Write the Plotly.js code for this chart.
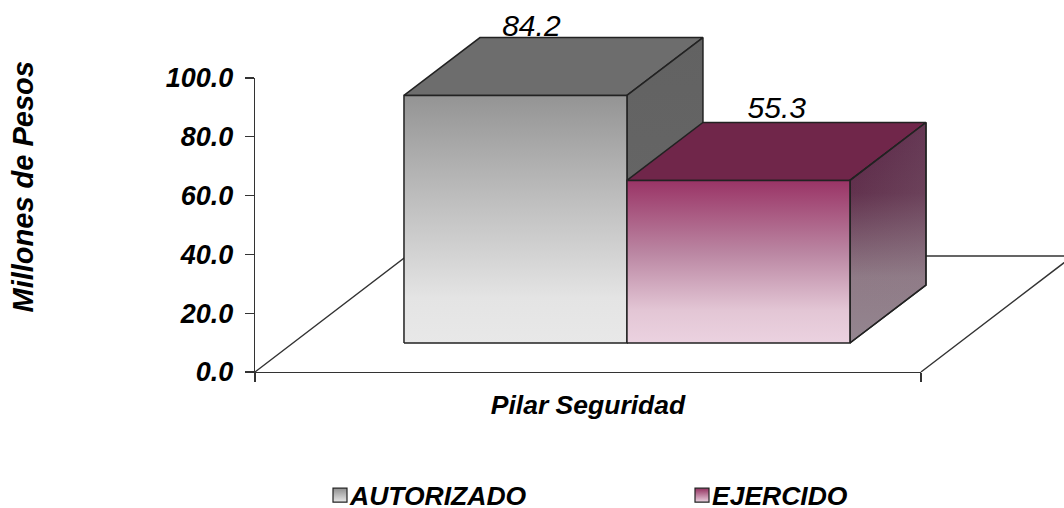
<!DOCTYPE html>
<html><head><meta charset="utf-8">
<script src="https://cdn.plot.ly/plotly-3.0.1.min.js"></script>
<style>html,body{margin:0;padding:0;background:#fff}</style></head>
<body><div id="chart" style="width:1064px;height:508px"></div>
<script>
const category = 'Pilar Seguridad';
const yTitle = 'Millones de Pesos';
const seriesNames = ['AUTORIZADO', 'EJERCIDO'];
const autorizado = [84.2];
const ejercido = [55.3];
const tickValues = [0, 20, 40, 60, 80, 100];

// 3D projection constants, in axis units
const FONT = '"Liberation Sans", Arial, sans-serif';
const W = 1064, H = 508, AX_L = 255, AX_R = 921, AX_T = 78, AX_B = 372;
const PX_X = AX_R - AX_L, PX_Y = (AX_B - AX_T) / 100;
const BAR_LEFT = 0.2237, BAR_W = 0.3348, DX = 0.1141, DY = 19.7, BASE = 9.86;
const FLOOR_DX = 0.228, FLOOR_DY = 39.46;
const EDGE = {color: '#222', width: 1.5};
const MARK = {xaxis: 'x2', yaxis: 'y2', showlegend: false, hoverinfo: 'skip'};

function poly(x, y, fillcolor, grad, gradType, noLine) {
  const t = Object.assign({x: x.concat(x[0]), y: y.concat(y[0]), mode: 'lines', fill: 'toself',
    line: noLine ? {width: 0, color: 'rgba(0,0,0,0)'} : EDGE}, MARK);
  if (grad) t.fillgradient = {type: gradType || 'vertical', colorscale: grad};
  else t.fillcolor = fillcolor;
  return t;
}
function bar(i, v, cols) {
  const l = BAR_LEFT + i * BAR_W, r = l + BAR_W, b = BASE, t = BASE + v;
  const out = [
    poly([l, r, r + DX, l + DX], [t, t, t + DY, t + DY], cols.top),
    poly([r, r + DX, r + DX, r], [b, b + DY, t + DY, t], null, cols.side)
  ];
  if (cols.sideOverlay) {
    out.push(poly([r, r + DX, r + DX, r], [b, b + DY, t + DY, t], null, cols.sideOverlay, 'horizontal', true));
    out.push(Object.assign({x: [r, r + DX, r + DX, r, r], y: [b, b + DY, t + DY, t, b], mode: 'lines', line: EDGE}, MARK));
  }
  out.push(poly([l, r, r, l], [b, b, t, t], null, cols.front));
  return out;
}
const greyCols = {top: '#6d6d6d',
  side: [[0, '#686868'], [1, '#626262']],
  front: [[0, '#e8e8e8'], [0.18, '#e4e4e4'], [0.6, '#bcbcbc'], [1, '#949494']]};
const pinkCols = {top: '#70264a',
  side: [[0, '#948690'], [0.3, '#8f7a86'], [0.68, '#62324e'], [1, '#5a2546']],
  sideOverlay: [[0, 'rgba(146,130,140,0)'], [1, 'rgba(146,130,140,0.2)']],
  front: [[0, '#ebd2e0'], [0.2, '#e3c6d5'], [0.55, '#bb87a3'], [1, '#9a3466']]};

function labelTrace(xPos, v, yGap) {
  return Object.assign({x: [xPos], y: [BASE + v + DY + yGap], text: [v.toFixed(1)],
    mode: 'text', textposition: 'top center',
    textfont: {family: FONT, size: 30, color: '#000', style: 'italic'}}, MARK);
}
function legendTrace(name, c0, c1) {
  return {x: [null], y: [null], name, mode: 'markers',
    marker: {symbol: 'square', size: 14, color: c0, gradient: {type: 'vertical', color: c1},
      line: {color: '#222', width: 1.2}}};
}
const floor = Object.assign({x: [0, FLOOR_DX, 1 + FLOOR_DX, 1], y: [0, FLOOR_DY, FLOOR_DY, 0], mode: 'lines',
  line: {color: '#333', width: 1.4}}, MARK);

const data = [legendTrace(seriesNames[0], '#8f8f8f', '#e8e8e8'),
              legendTrace(seriesNames[1], '#93305f', '#ebd2e0'),
              floor, labelTrace(0.415, autorizado[0], -1.9)]
  .concat(bar(0, autorizado[0], greyCols))
  .concat([labelTrace(0.7835, ejercido[0], -1)])
  .concat(bar(1, ejercido[0], pinkCols));

const axisStyle = {ticks: 'outside', ticklen: 9, tickwidth: 1.3, tickcolor: '#333', showline: true,
  linecolor: '#333', linewidth: 1.3, showgrid: false, zeroline: false};
const hidden = {visible: false, fixedrange: true, showgrid: false, zeroline: false};
const txt = (size) => ({family: FONT, size, weight: 'bold', style: 'italic', color: '#000'});

const layout = {
  width: W, height: H, paper_bgcolor: '#fff', plot_bgcolor: 'rgba(0,0,0,0)', showlegend: true,
  margin: {l: 0, r: 0, t: 0, b: 0, pad: 0, autoexpand: false},
  font: {family: FONT, color: '#000'},
  xaxis: Object.assign({domain: [AX_L / W, AX_R / W], range: [0, 1], tickvals: [0, 1], ticktext: ['', ''],
    title: {text: category, standoff: 11, font: txt(26.5)}}, axisStyle),
  yaxis: Object.assign({domain: [(H - AX_B) / H, (H - AX_T) / H], range: [0, 100], tickvals: tickValues, tickformat: '.1f',
    ticklabelstandoff: 6, tickfont: txt(27)}, axisStyle),
  xaxis2: Object.assign({domain: [0, 1], anchor: 'y2', range: [-AX_L / PX_X, (W - AX_L) / PX_X]}, hidden),
  yaxis2: Object.assign({domain: [0, 1], anchor: 'x2', range: [-(H - AX_B) / PX_Y, AX_B / PX_Y]}, hidden),
  annotations: [{text: yTitle, textangle: -90, xref: 'paper', yref: 'paper', x: 22 / W, y: (H - 187.5) / H,
    xanchor: 'center', yanchor: 'middle', showarrow: false, font: txt(29)}],
  legend: {orientation: 'h', x: 320 / W, xanchor: 'left', y: 0.072, yanchor: 'top',
    entrywidth: 317, entrywidthmode: 'pixels', bgcolor: 'rgba(0,0,0,0)', itemclick: false,
    font: txt(26.5)}
};
Plotly.newPlot('chart', data, layout, {displayModeBar: false, staticPlot: true}).then(function (gd) {
  // the reference keeps its legend text tight against the swatch
  gd.querySelectorAll('.legendtext').forEach(function (t) {
    t.setAttribute('x', parseFloat(t.getAttribute('x')) - 10);
  });
});
</script></body></html>
